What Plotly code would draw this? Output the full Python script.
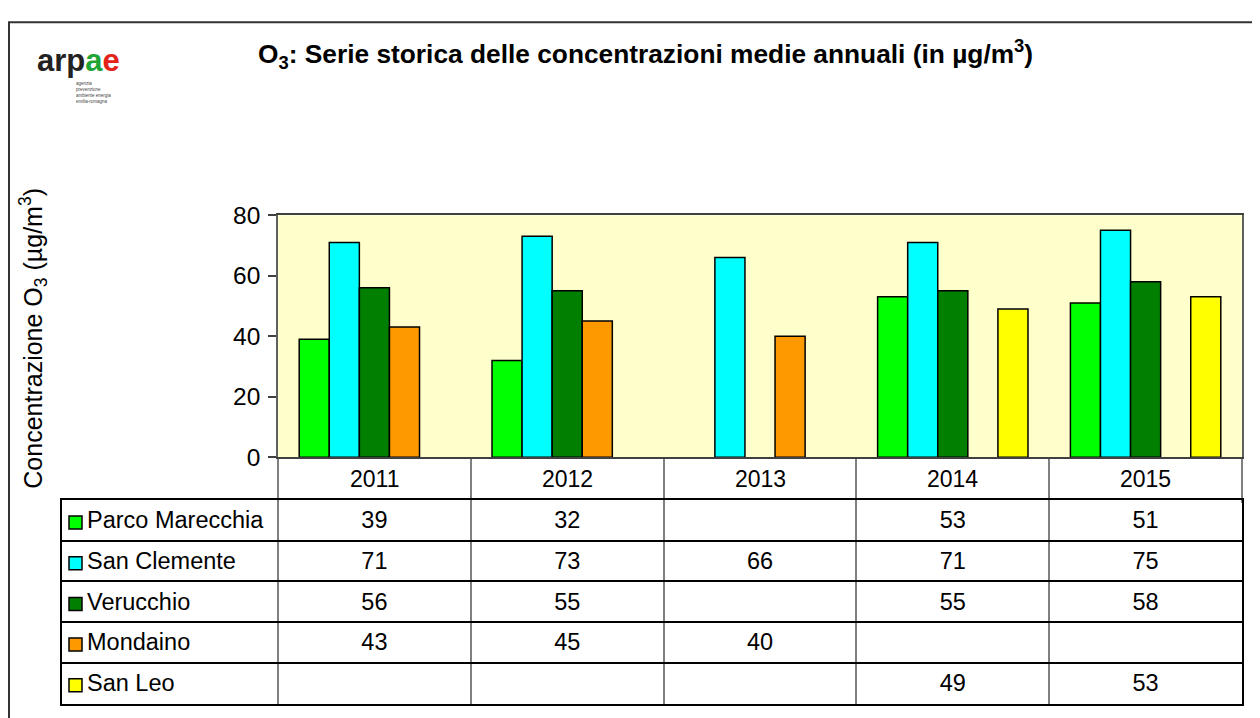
import plotly.graph_objects as go

years = ["2011", "2012", "2013", "2014", "2015"]
stations = ["Parco Marecchia", "San Clemente", "Verucchio", "Mondaino", "San Leo"]
parco_marecchia = [39, 32, None, 53, 51]
san_clemente = [71, 73, 66, 71, 75]
verucchio = [56, 55, None, 55, 58]
mondaino = [43, 45, 40, None, None]
san_leo = [None, None, None, 49, 53]
series = [parco_marecchia, san_clemente, verucchio, mondaino, san_leo]
colors = ["#00FF00", "#00FFFF", "#007F00", "#FF9900", "#FFFF00"]
y_ticks = [0, 20, 40, 60, 80]

# figure size and mapping from target picture pixels to figure pixels
W, H = 1244, 730
OX = 8          # horizontal page offset
AY, BY = 0.967, 18.0   # vertical picture mapping observed in the viewer
FONT = "Liberation Sans, Arial, sans-serif"
FS = 23.5
TEXT_DY = 0.05  # small downward nudge of table texts (in row units)


def px(x):
    return (x - OX) / W


def py(y):
    return 1 - ((y - BY) / AY) / H


fig = go.Figure()

# bars
for name, vals, col in zip(stations, series, colors):
    fig.add_trace(go.Bar(
        x=years, y=vals, name=name,
        marker=dict(color=col, line=dict(color="black", width=1.5)),
        xaxis="x", yaxis="y", showlegend=False,
    ))

# data table drawn on a second pair of axes
n_rows = len(stations)
col_w = (1242 - 278) / len(years)
left_units = (278 - 62) / col_w
x2_min = -0.5 - left_units

# legend squares in the table
fig.add_trace(go.Scatter(
    x=[x2_min + (75.5 - 62) / col_w] * n_rows, y=[r + TEXT_DY for r in range(n_rows)],
    mode="markers",
    marker=dict(symbol="square", size=13, color=colors, line=dict(color="black", width=1.5)),
    xaxis="x2", yaxis="y2", showlegend=False, hoverinfo="skip",
))
# station labels
fig.add_trace(go.Scatter(
    x=[x2_min + (87 - 62) / col_w] * n_rows, y=[r + TEXT_DY for r in range(n_rows)],
    mode="text", text=stations, textposition="middle right",
    textfont=dict(family=FONT, size=FS, color="black"),
    xaxis="x2", yaxis="y2", showlegend=False, hoverinfo="skip",
))
# values
tx, ty, tt = [], [], []
for r, vals in enumerate(series):
    for c, v in enumerate(vals):
        if v is not None:
            tx.append(c)
            ty.append(r + TEXT_DY)
            tt.append(str(v))
fig.add_trace(go.Scatter(
    x=tx, y=ty, mode="text", text=tt, textposition="middle center",
    textfont=dict(family=FONT, size=FS, color="black"),
    xaxis="x2", yaxis="y2", showlegend=False, hoverinfo="skip",
))

annotations = [
    dict(text="<b>O<sub>3</sub>: Serie storica delle concentrazioni medie annuali (in µg/m<sup>3</sup>)</b>",
         xref="paper", yref="paper", x=px(256), y=py(51), xanchor="left", yanchor="middle",
         showarrow=False, font=dict(family=FONT, size=26.3, color="black")),
    dict(text="Concentrazione O<sub>3</sub> (µg/m<sup>3</sup>)",
         xref="paper", yref="paper", x=px(33), y=py(337), xanchor="center", yanchor="middle",
         textangle=-90, showarrow=False, font=dict(family=FONT, size=25, color="black")),
    dict(text="<b><span style='color:#222222'>arp</span><span style='color:#1fa637'>a</span><span style='color:#e2231a'>e</span></b>",
         xref="paper", yref="paper", x=px(35), y=py(58), xanchor="left", yanchor="middle",
         showarrow=False, font=dict(family=FONT, size=31)),
    dict(text="agenzia<br>prevenzione<br>ambiente energia<br>emilia-romagna",
         xref="paper", yref="paper", x=px(74), y=py(90), xanchor="left", yanchor="middle",
         align="left", showarrow=False, font=dict(family=FONT, size=4.5, color="#444444")),
]
# year header labels below the bars (category index positions)
for i, yr in enumerate(years):
    annotations.append(dict(
        text=yr, xref="x", yref="paper", x=i, y=py(478), xanchor="center", yanchor="middle",
        showarrow=False, font=dict(family=FONT, size=23, color="black")))

fig.update_layout(
    width=W, height=H, autosize=False,
    margin=dict(l=0, r=0, t=0, b=0),
    paper_bgcolor="white",
    plot_bgcolor="white",
    font=dict(family=FONT, color="black"),
    barmode="group", bargap=0.22, bargroupgap=0,
    xaxis=dict(
        domain=[px(278), px(1242)], anchor="y",
        type="category", categoryorder="array", categoryarray=years,
        range=[-0.5, len(years) - 0.5], autorange=False,
        tickson="boundaries", ticks="outside", ticklen=(499 - 456) / AY, tickwidth=1.5,
        tickcolor="#808080",
        showline=True, linecolor="#404040", linewidth=1.5, mirror=True,
        showgrid=False, showticklabels=False,
    ),
    yaxis=dict(
        domain=[py(456), py(213)], anchor="x",
        range=[0, 80], autorange=False, tickvals=y_ticks,
        ticks="outside", ticklen=8, tickwidth=1.5, tickcolor="#404040",
        showline=True, linecolor="#606060", linewidth=1.5, mirror=True,
        showgrid=False, zeroline=False, ticklabelstandoff=3,
        tickfont=dict(family=FONT, size=24.5, color="black"),
    ),
    xaxis2=dict(
        domain=[px(62), px(1242)], anchor="y2",
        range=[x2_min, 4.5], autorange=False, tickvals=[-0.5, 0.5, 1.5, 2.5, 3.5],
        showgrid=True, gridcolor="#808080", gridwidth=1.5,
        showticklabels=False, ticks="", zeroline=False,
        showline=True, linecolor="black", linewidth=1.5, mirror=True,
    ),
    yaxis2=dict(
        domain=[py(703.5), py(499)], anchor="x2",
        range=[n_rows - 0.5, -0.5], autorange=False, tickvals=[0.5, 1.5, 2.5, 3.5],
        showgrid=True, gridcolor="black", gridwidth=1.5,
        showticklabels=False, ticks="", zeroline=False,
        showline=True, linecolor="black", linewidth=1.5, mirror=True,
    ),
    shapes=[
        # pale yellow plot area of the bar chart only
        dict(type="rect", xref="x domain", yref="y domain", x0=0, x1=1, y0=0, y1=1,
             fillcolor="#FFFFCC", line=dict(width=0), layer="below"),
        # outer frame
        dict(type="rect", xref="paper", yref="paper",
             x0=px(9), x1=px(1300), y0=-0.1, y1=1 - 1.2 / H,
             line=dict(color="#333333", width=2), fillcolor="rgba(0,0,0,0)"),
    ],
    annotations=annotations,
)

fig.write_html("out.html")
